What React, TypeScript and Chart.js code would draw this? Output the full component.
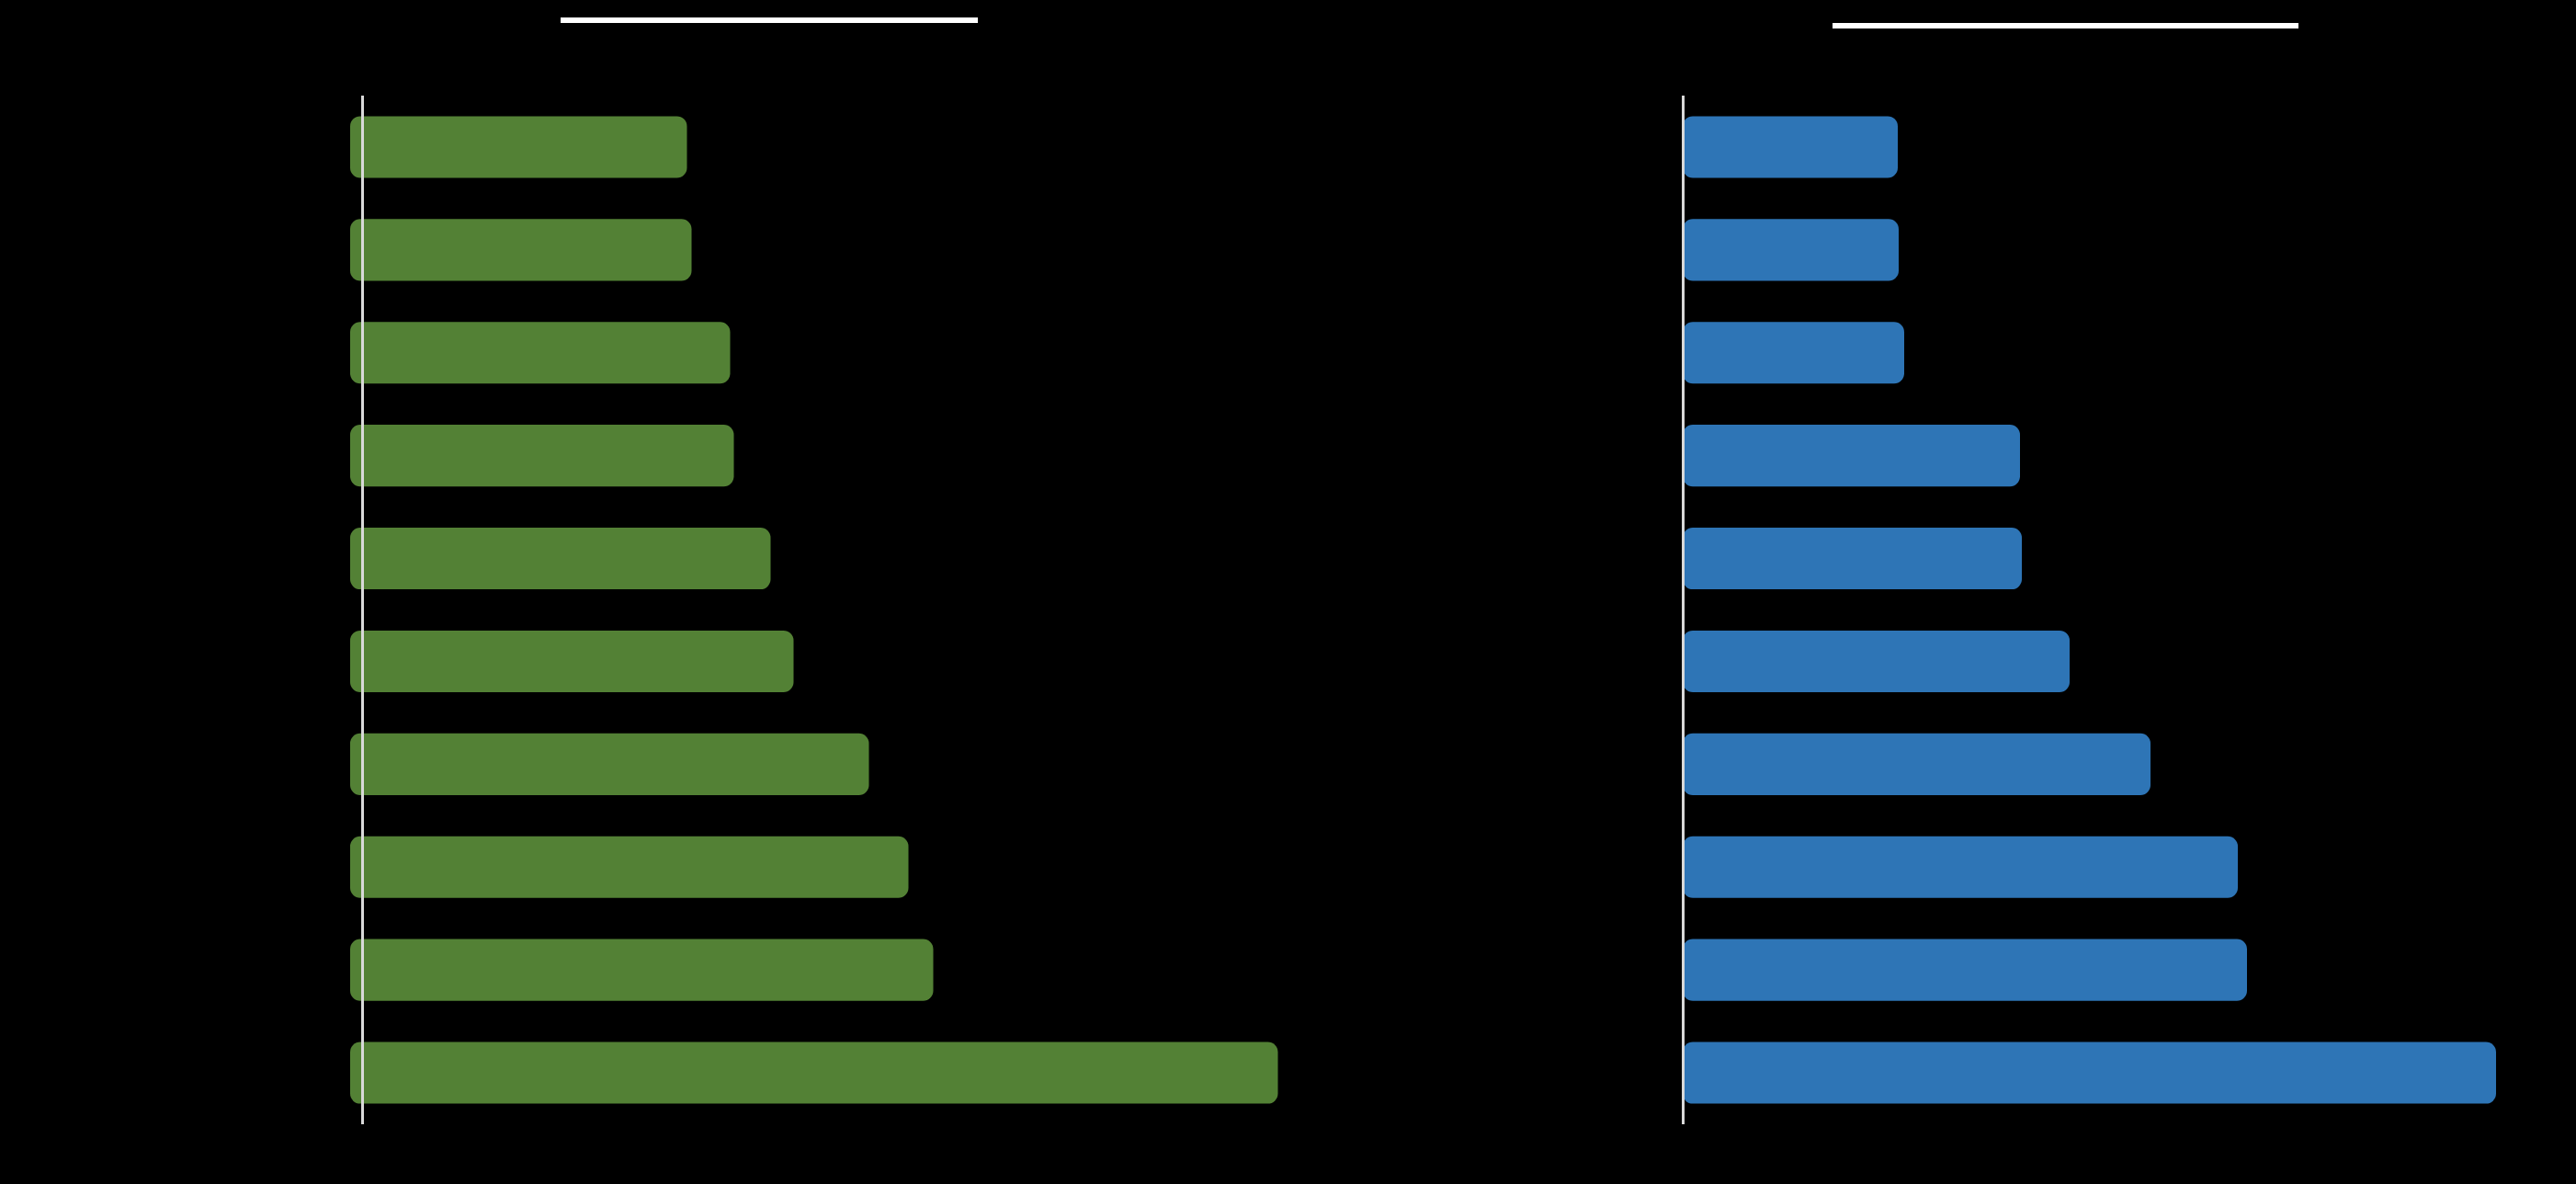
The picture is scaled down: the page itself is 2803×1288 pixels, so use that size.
import React, { useEffect, useRef } from "react";
import { Chart, registerables } from "chart.js";

Chart.register(...registerables);

const categories: string[] = ["1", "2", "3", "4", "5", "6", "7", "8", "9", "10"];
const leftValues: number[] = [35.4, 35.9, 40.1, 40.5, 44.5, 47.0, 55.2, 59.5, 62.2, 99.7];
const rightValues: number[] = [23.4, 23.5, 24.1, 36.7, 36.9, 42.1, 50.9, 60.4, 61.4, 88.5];

const GREEN = "#538135";
const BLUE = "#2E75B6";

const axisLinePlugin = {
  id: "axisLine",
  afterDatasetsDraw(chart: any) {
    const { ctx, chartArea, scales } = chart;
    const x = Math.round(scales.x.getPixelForValue(0)) + 0.5;
    ctx.save();
    ctx.strokeStyle = "#d9d9d9";
    ctx.lineWidth = 3;
    ctx.beginPath();
    ctx.moveTo(x, chartArea.top);
    ctx.lineTo(x, chartArea.bottom);
    ctx.stroke();
    ctx.restore();
  },
};

function BarPanel(props: {
  values: number[];
  color: string;
  min: number;
  max: number;
  left: number;
  width: number;
  padLeft: number;
  padRight: number;
}) {
  const ref = useRef<HTMLCanvasElement | null>(null);
  useEffect(() => {
    if (!ref.current) return;
    const chart = new Chart(ref.current, {
      type: "bar",
      data: {
        labels: categories,
        datasets: [
          {
            data: props.values,
            base: props.min,
            backgroundColor: props.color,
            borderRadius: 11,
            borderSkipped: false,
            barPercentage: 0.6,
            categoryPercentage: 1,
          } as any,
        ],
      },
      options: {
        indexAxis: "y",
        animation: false,
        responsive: false,
        devicePixelRatio: 1,
        layout: {
          padding: { left: props.padLeft, right: props.padRight, top: 104, bottom: 65 },
        },
        plugins: { legend: { display: false }, tooltip: { enabled: false }, title: { display: false } },
        scales: {
          x: { display: false, min: props.min, max: props.max },
          y: { display: false },
        },
      },
      plugins: [axisLinePlugin],
    });
    return () => chart.destroy();
  }, []);
  return (
    <canvas
      ref={ref}
      width={props.width}
      height={1288}
      style={{ position: "absolute", left: props.left, top: 0, width: props.width, height: 1288 }}
    />
  );
}

export default function App() {
  return (
    <div
      style={{
        position: "absolute",
        left: 0,
        top: 0,
        width: 2803,
        height: 1288,
        background: "#000000",
        overflow: "hidden",
      }}
    >
      <div style={{ position: "absolute", left: 610, top: 19, width: 454, height: 6, background: "#ffffff" }} />
      <div style={{ position: "absolute", left: 1994, top: 25, width: 507, height: 6, background: "#ffffff" }} />
      <BarPanel values={leftValues} color={GREEN} min={-1.25} max={100} left={0} width={1400} padLeft={381} padRight={6.5} />
      <BarPanel values={rightValues} color={BLUE} min={0} max={90} left={1410} width={1393} padLeft={421} padRight={72} />
    </div>
  );
}
